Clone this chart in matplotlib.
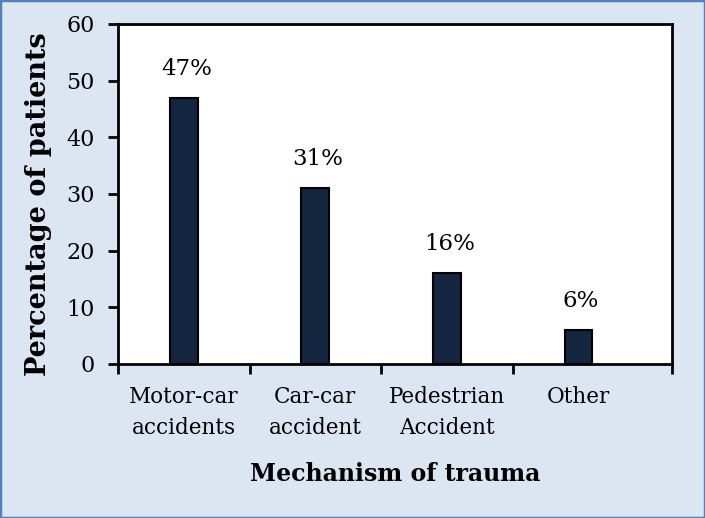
import matplotlib
matplotlib.use("Agg")
import matplotlib.pyplot as plt
from matplotlib.patches import Rectangle

categories = ["Motor-car\naccidents", "Car-car\naccident", "Pedestrian\nAccident", "Other"]
values = [47, 31, 16, 6]
labels = ["47%", "31%", "16%", "6%"]
yticks = [0, 10, 20, 30, 40, 50, 60]

plt.rcParams['font.family'] = ['DejaVu Serif']

bg = '#dce6f2'
fig = plt.figure(figsize=(7.05, 5.18), dpi=100, facecolor=bg)
fig.patches.append(Rectangle((0, 0), 1, 1, transform=fig.transFigure,
                             fill=False, edgecolor='#4f81bd', linewidth=2.5))
ax = fig.add_axes([118/705, 1-364/518, (672-118)/705, (364-24)/518])
ax.set_facecolor('white')

x = list(range(len(values)))
ax.bar(x, values, width=0.21, color='#14263f', edgecolor='black', linewidth=1.5, zorder=3)
for xi, v, lab in zip(x, values, labels):
    ax.annotate(lab, (xi, v), xytext=(2, 13), textcoords='offset points',
                ha='center', va='bottom', fontsize=16.5)

ax.set_ylim(0, 60)
ax.set_yticks(yticks)
xmax = 3.5 + 28/132
ax.set_xlim(-0.5, xmax)
ax.set_xticks([-0.5, 0.5, 1.5, 2.5, xmax])
ax.set_xticklabels([])
ax.set_xticks(x, minor=True)
ax.set_xticklabels(categories, minor=True, fontsize=15.5, linespacing=1.5)
ax.tick_params(axis='x', which='minor', length=0, pad=16)
ax.tick_params(axis='x', which='major', length=7, width=2, direction='out')
ax.tick_params(axis='y', length=7, width=2, direction='out', labelsize=16, pad=10)
for s in ax.spines.values():
    s.set_linewidth(2)

ax.set_ylabel("Percentage of patients", fontsize=19.5, fontweight='bold',
              labelpad=10, y=0.47)
ax.set_xlabel("Mechanism of trauma", fontsize=17, fontweight='bold', labelpad=17)

fig.savefig("out.png", dpi=100, facecolor=bg)
